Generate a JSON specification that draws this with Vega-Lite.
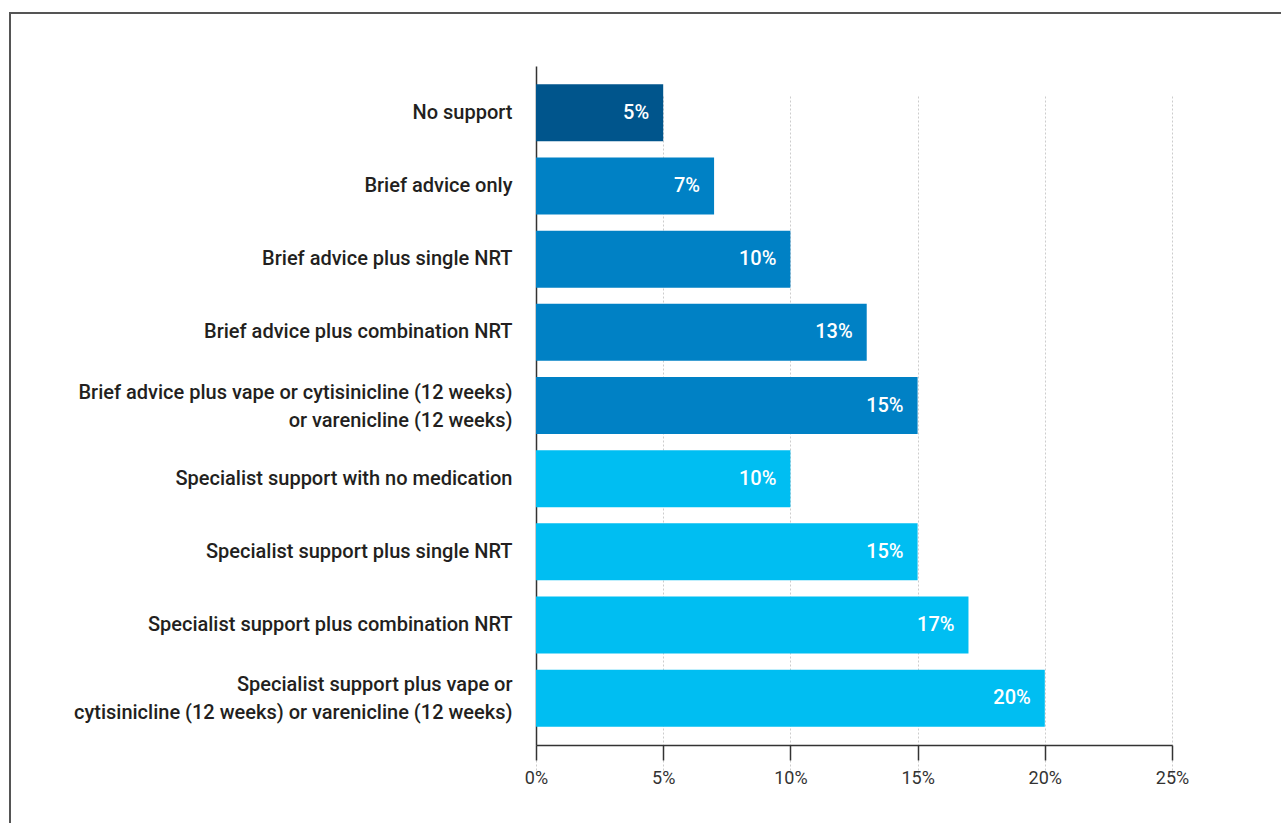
{
  "$schema": "https://vega.github.io/schema/vega-lite/v6.json",
  "width": 1275,
  "height": 814,
  "autosize": {"type": "none"},
  "padding": {"left": 10, "top": 13, "right": -4, "bottom": -4},
  "background": "white",
  "data": {
    "values": [
      {"category": "No support", "value": 0.05, "group": "none"},
      {"category": "Brief advice only", "value": 0.07, "group": "brief"},
      {"category": "Brief advice plus single NRT", "value": 0.10, "group": "brief"},
      {"category": "Brief advice plus combination NRT", "value": 0.13, "group": "brief"},
      {"category": "Brief advice plus vape or cytisinicline (12 weeks)|or varenicline (12 weeks)", "value": 0.15, "group": "brief"},
      {"category": "Specialist support with no medication", "value": 0.10, "group": "specialist"},
      {"category": "Specialist support plus single NRT", "value": 0.15, "group": "specialist"},
      {"category": "Specialist support plus combination NRT", "value": 0.17, "group": "specialist"},
      {"category": "Specialist support plus vape or|cytisinicline (12 weeks) or varenicline (12 weeks)", "value": 0.20, "group": "specialist"}
    ]
  },
  "encoding": {
    "y": {
      "field": "category",
      "type": "nominal",
      "sort": null,
      "scale": {"range": [53, 732], "paddingInner": 0.22, "paddingOuter": 0.25},
      "axis": {
        "title": null,
        "offset": -526,
        "ticks": false,
        "labelExpr": "split(datum.label, '|')",
        "labelFont": "Roboto",
        "labelFontSize": 20,
        "labelFontWeight": 500,
        "labelColor": "#231f20",
        "labelPadding": 24,
        "labelLineHeight": 28,
        "labelLimit": 600,
        "labelOffset": {"condition": {"test": "indexof(datum.value, '|') >= 0", "value": -13}, "value": 0},
        "domainColor": "#333333",
        "domainWidth": 1.5,
        "grid": false
      }
    },
    "x": {
      "field": "value",
      "type": "quantitative",
      "scale": {"domain": [0, 0.25], "nice": false, "range": [526, 1162]},
      "axis": {
        "title": null,
        "offset": -82,
        "values": [0, 0.05, 0.1, 0.15, 0.2, 0.25],
        "format": ".0%",
        "labelFont": "Roboto",
        "labelFontSize": 18,
        "labelColor": "#333333",
        "labelPadding": 9,
        "labelFlush": false,
        "tickSize": 15,
        "tickColor": "#333333",
        "tickWidth": 1.5,
        "domainColor": "#333333",
        "domainWidth": 1.5,
        "grid": true,
        "gridColor": "#cccccc",
        "gridDash": [2, 2],
        "gridWidth": 1
      }
    }
  },
  "layer": [
    {
      "mark": {"type": "bar"},
      "encoding": {
        "color": {
          "field": "group",
          "type": "nominal",
          "scale": {"domain": ["none", "brief", "specialist"], "range": ["#00558C", "#0081C5", "#00BEF2"]},
          "legend": null
        }
      }
    },
    {
      "mark": {
        "type": "text",
        "align": "right",
        "baseline": "middle",
        "dx": -14,
        "color": "white",
        "font": "Roboto",
        "fontSize": 20,
        "fontWeight": 500
      },
      "encoding": {
        "text": {"field": "value", "type": "quantitative", "format": ".0%"}
      }
    }
  ],
  "config": {
    "view": {"stroke": "#555555", "strokeWidth": 2}
  }
}
